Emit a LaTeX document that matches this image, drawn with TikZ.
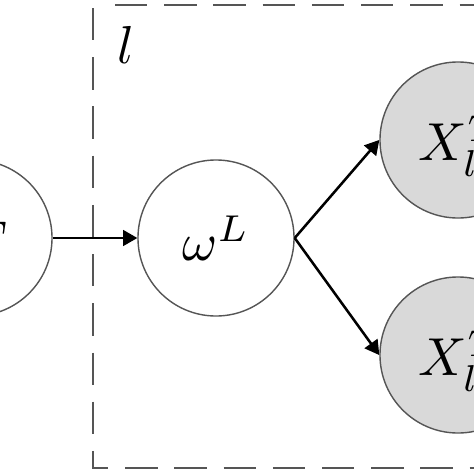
\documentclass[tikz,border=0pt]{standalone}
\usepackage{amsmath}
\usepackage{tikz}
\usetikzlibrary{arrows,shapes,positioning}
\definecolor{edgegray}{RGB}{85,85,85}
\definecolor{obsgray}{RGB}{217,217,217}
\newcommand{\plotmath}[1]{\scalebox{3.8}{$#1$}}

\begin{document}
\begin{tikzpicture}[x=0.025cm,y=-0.025cm,
    latent/.style={circle,draw=edgegray,line width=1pt,fill=white,minimum size=3.9cm,inner sep=0pt},
    observed/.style={latent,fill=obsgray},
    boxline/.style={draw=edgegray,line width=1.4pt,dash pattern=on 23pt off 12pt}]
  \useasboundingbox (0,0) rectangle (474,474);
  \clip (0,0) rectangle (474,474);
 %the plate
    \draw[boxline] (93,8) -- (93,468) -- (540,468);
    \draw[boxline] (115,5) -- (540,5);
    \node (plate) at (126,45) {\plotmath{l}};

 %the variables
    \node[latent] (T) at (-26,238) {};
    \node[anchor=east] (Tlab) at (12,240) {\plotmath{T}};
    \node[latent] (w) at (216,238) {\plotmath{\omega^{L}}};
    \node[observed] (X1) at (458,140) {};
    \node[observed] (X2) at (458,355) {};
    \node[anchor=west] (X1lab) at (414,146) {\plotmath{X^{T}_{l}}};
    \node[anchor=west] (X2lab) at (414,361) {\plotmath{X^{T}_{l}}};

 %the arrows
    \begin{scope}[every path/.style={-triangle 60,line width=1.8pt}]
       \draw (T.east) -- (w.west);
       \draw (w.east) -- (X1.west);
       \draw (w.east) -- (X2.west);
    \end{scope}
\end{tikzpicture}
\end{document}
